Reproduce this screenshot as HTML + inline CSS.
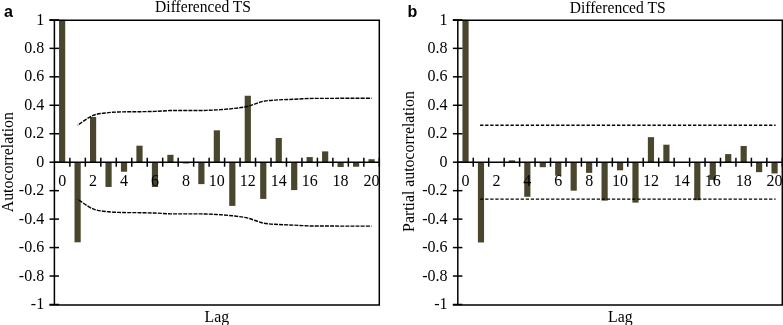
<!DOCTYPE html>
<html><head><meta charset="utf-8"><style>
html,body{margin:0;padding:0;background:#fff;}
body{width:783px;height:325px;overflow:hidden;}
svg{display:block;will-change:transform;}
text{font-family:"Liberation Serif",serif;fill:#000;}
.yt{font-size:16px;text-anchor:end;}
.xt{font-size:16px;text-anchor:middle;}
.ti{font-size:16.2px;text-anchor:middle;}
.ax{font-size:15.8px;text-anchor:middle;}
.ws{}
.lt{font-family:"Liberation Sans",sans-serif;font-weight:bold;font-size:16px;}
</style></head><body>
<svg width="783" height="325" viewBox="0 0 783 325">
<rect x="59.04" y="19.90" width="6.19" height="142.30" fill="#4a452d"/>
<rect x="74.51" y="162.20" width="6.19" height="80.11" fill="#4a452d"/>
<rect x="89.98" y="116.95" width="6.19" height="45.25" fill="#4a452d"/>
<rect x="105.46" y="162.20" width="6.19" height="24.76" fill="#4a452d"/>
<rect x="120.93" y="162.20" width="6.19" height="9.53" fill="#4a452d"/>
<rect x="136.40" y="145.69" width="6.19" height="16.51" fill="#4a452d"/>
<rect x="151.87" y="162.20" width="6.19" height="24.76" fill="#4a452d"/>
<rect x="167.34" y="154.80" width="6.19" height="7.40" fill="#4a452d"/>
<rect x="182.81" y="162.20" width="6.19" height="1.28" fill="#4a452d"/>
<rect x="198.28" y="162.20" width="6.19" height="21.91" fill="#4a452d"/>
<rect x="213.76" y="130.32" width="6.19" height="31.88" fill="#4a452d"/>
<rect x="229.23" y="162.20" width="6.19" height="43.69" fill="#4a452d"/>
<rect x="244.70" y="95.75" width="6.19" height="66.45" fill="#4a452d"/>
<rect x="260.17" y="162.20" width="6.19" height="36.71" fill="#4a452d"/>
<rect x="275.64" y="138.01" width="6.19" height="24.19" fill="#4a452d"/>
<rect x="291.11" y="162.20" width="6.19" height="27.89" fill="#4a452d"/>
<rect x="306.58" y="157.08" width="6.19" height="5.12" fill="#4a452d"/>
<rect x="322.06" y="151.39" width="6.19" height="10.81" fill="#4a452d"/>
<rect x="337.53" y="162.20" width="6.19" height="4.84" fill="#4a452d"/>
<rect x="353.00" y="162.20" width="6.19" height="4.55" fill="#4a452d"/>
<rect x="368.47" y="159.21" width="6.19" height="2.99" fill="#4a452d"/>
<path d="M77.61,125.26 C80.19,123.62 87.92,117.55 93.08,115.45 C98.24,113.35 103.39,113.25 108.55,112.64 C113.71,112.04 118.86,111.99 124.02,111.83 C129.18,111.68 134.34,111.79 139.49,111.71 C144.65,111.63 149.81,111.55 154.96,111.36 C160.12,111.17 165.28,110.71 170.44,110.57 C175.59,110.42 180.75,110.51 185.91,110.50 C191.06,110.49 196.22,110.60 201.38,110.50 C206.54,110.39 211.69,110.20 216.85,109.89 C222.01,109.57 227.16,109.21 232.32,108.62 C237.48,108.02 242.64,107.53 247.79,106.32 C252.95,105.10 258.11,102.39 263.26,101.32 C268.42,100.25 273.58,100.22 278.74,99.87 C283.89,99.53 289.05,99.50 294.21,99.26 C299.36,99.02 304.52,98.59 309.68,98.45 C314.84,98.31 319.99,98.44 325.15,98.42 C330.31,98.39 335.46,98.32 340.62,98.30 C345.78,98.27 350.94,98.28 356.09,98.27 C361.25,98.27 368.99,98.26 371.56,98.25" fill="none" stroke="#000" stroke-width="1.4" stroke-dasharray="4 1.1" stroke-dashoffset="3.3"/>
<path d="M77.61,199.14 C80.19,200.78 87.92,206.85 93.08,208.95 C98.24,211.05 103.39,211.15 108.55,211.76 C113.71,212.36 118.86,212.41 124.02,212.57 C129.18,212.72 134.34,212.61 139.49,212.69 C144.65,212.77 149.81,212.85 154.96,213.04 C160.12,213.23 165.28,213.69 170.44,213.83 C175.59,213.98 180.75,213.89 185.91,213.90 C191.06,213.91 196.22,213.80 201.38,213.90 C206.54,214.01 211.69,214.20 216.85,214.51 C222.01,214.83 227.16,215.19 232.32,215.78 C237.48,216.38 242.64,216.87 247.79,218.08 C252.95,219.30 258.11,222.01 263.26,223.08 C268.42,224.15 273.58,224.18 278.74,224.53 C283.89,224.87 289.05,224.90 294.21,225.14 C299.36,225.38 304.52,225.81 309.68,225.95 C314.84,226.09 319.99,225.96 325.15,225.98 C330.31,226.01 335.46,226.08 340.62,226.10 C345.78,226.13 350.94,226.12 356.09,226.13 C361.25,226.13 368.99,226.14 371.56,226.15" fill="none" stroke="#000" stroke-width="1.4" stroke-dasharray="4 1.1" stroke-dashoffset="3.3"/>
<path d="M49.40,20.15 H379.30 V304.90 H49.40" fill="none" stroke="#000" stroke-width="1.50"/>
<line x1="54.40" y1="20.15" x2="54.40" y2="304.90" stroke="#000" stroke-width="1.50"/>
<line x1="49.50" y1="19.90" x2="59.00" y2="19.90" stroke="#000" stroke-width="1.50"/>
<text x="44.20" y="24.50" class="yt">1</text>
<line x1="49.50" y1="48.36" x2="59.00" y2="48.36" stroke="#000" stroke-width="1.50"/>
<text x="44.20" y="52.96" class="yt">0.8</text>
<line x1="49.50" y1="76.82" x2="59.00" y2="76.82" stroke="#000" stroke-width="1.50"/>
<text x="44.20" y="81.42" class="yt">0.6</text>
<line x1="49.50" y1="105.28" x2="59.00" y2="105.28" stroke="#000" stroke-width="1.50"/>
<text x="44.20" y="109.88" class="yt">0.4</text>
<line x1="49.50" y1="133.74" x2="59.00" y2="133.74" stroke="#000" stroke-width="1.50"/>
<text x="44.20" y="138.34" class="yt">0.2</text>
<line x1="49.50" y1="162.20" x2="59.00" y2="162.20" stroke="#000" stroke-width="1.50"/>
<text x="44.20" y="166.80" class="yt">0</text>
<line x1="49.50" y1="190.66" x2="59.00" y2="190.66" stroke="#000" stroke-width="1.50"/>
<text x="44.20" y="195.26" class="yt">-0.2</text>
<line x1="49.50" y1="219.12" x2="59.00" y2="219.12" stroke="#000" stroke-width="1.50"/>
<text x="44.20" y="223.72" class="yt">-0.4</text>
<line x1="49.50" y1="247.58" x2="59.00" y2="247.58" stroke="#000" stroke-width="1.50"/>
<text x="44.20" y="252.18" class="yt">-0.6</text>
<line x1="49.50" y1="276.04" x2="59.00" y2="276.04" stroke="#000" stroke-width="1.50"/>
<text x="44.20" y="280.64" class="yt">-0.8</text>
<line x1="49.50" y1="304.50" x2="59.00" y2="304.50" stroke="#000" stroke-width="1.50"/>
<text x="44.20" y="309.10" class="yt">-1</text>
<line x1="54.40" y1="162.20" x2="379.30" y2="162.20" stroke="#000" stroke-width="1.50"/>
<line x1="69.87" y1="157.70" x2="69.87" y2="166.70" stroke="#000" stroke-width="1.50"/>
<line x1="85.34" y1="157.70" x2="85.34" y2="166.70" stroke="#000" stroke-width="1.50"/>
<line x1="100.81" y1="157.70" x2="100.81" y2="166.70" stroke="#000" stroke-width="1.50"/>
<line x1="116.29" y1="157.70" x2="116.29" y2="166.70" stroke="#000" stroke-width="1.50"/>
<line x1="131.76" y1="157.70" x2="131.76" y2="166.70" stroke="#000" stroke-width="1.50"/>
<line x1="147.23" y1="157.70" x2="147.23" y2="166.70" stroke="#000" stroke-width="1.50"/>
<line x1="162.70" y1="157.70" x2="162.70" y2="166.70" stroke="#000" stroke-width="1.50"/>
<line x1="178.17" y1="157.70" x2="178.17" y2="166.70" stroke="#000" stroke-width="1.50"/>
<line x1="193.64" y1="157.70" x2="193.64" y2="166.70" stroke="#000" stroke-width="1.50"/>
<line x1="209.11" y1="157.70" x2="209.11" y2="166.70" stroke="#000" stroke-width="1.50"/>
<line x1="224.59" y1="157.70" x2="224.59" y2="166.70" stroke="#000" stroke-width="1.50"/>
<line x1="240.06" y1="157.70" x2="240.06" y2="166.70" stroke="#000" stroke-width="1.50"/>
<line x1="255.53" y1="157.70" x2="255.53" y2="166.70" stroke="#000" stroke-width="1.50"/>
<line x1="271.00" y1="157.70" x2="271.00" y2="166.70" stroke="#000" stroke-width="1.50"/>
<line x1="286.47" y1="157.70" x2="286.47" y2="166.70" stroke="#000" stroke-width="1.50"/>
<line x1="301.94" y1="157.70" x2="301.94" y2="166.70" stroke="#000" stroke-width="1.50"/>
<line x1="317.41" y1="157.70" x2="317.41" y2="166.70" stroke="#000" stroke-width="1.50"/>
<line x1="332.89" y1="157.70" x2="332.89" y2="166.70" stroke="#000" stroke-width="1.50"/>
<line x1="348.36" y1="157.70" x2="348.36" y2="166.70" stroke="#000" stroke-width="1.50"/>
<line x1="363.83" y1="157.70" x2="363.83" y2="166.70" stroke="#000" stroke-width="1.50"/>
<line x1="379.30" y1="157.70" x2="379.30" y2="166.70" stroke="#000" stroke-width="1.50"/>
<text x="62.14" y="185.70" class="xt">0</text>
<text x="93.08" y="185.70" class="xt">2</text>
<text x="124.02" y="185.70" class="xt">4</text>
<text x="154.96" y="185.70" class="xt">6</text>
<text x="185.91" y="185.70" class="xt">8</text>
<text x="216.85" y="185.70" class="xt">10</text>
<text x="247.79" y="185.70" class="xt">12</text>
<text x="278.74" y="185.70" class="xt">14</text>
<text x="309.68" y="185.70" class="xt">16</text>
<text x="340.62" y="185.70" class="xt">18</text>
<text x="371.56" y="185.70" class="xt">20</text>
<text transform="translate(203.05,11.80) scale(0.9630,1)" class="ti">Differenced TS</text>
<text x="216.80" y="321.90" class="ax">Lag</text>
<text transform="translate(12.70,162.20) rotate(-90)" class="ax">Autocorrelation</text>
<text x="4.00" y="16.70" class="lt">a</text>
<rect x="462.44" y="19.90" width="6.18" height="142.30" fill="#4a452d"/>
<rect x="477.89" y="162.20" width="6.18" height="80.26" fill="#4a452d"/>
<rect x="508.79" y="160.35" width="6.18" height="1.85" fill="#4a452d"/>
<rect x="524.25" y="162.20" width="6.18" height="34.58" fill="#4a452d"/>
<rect x="539.70" y="162.20" width="6.18" height="4.98" fill="#4a452d"/>
<rect x="555.15" y="162.20" width="6.18" height="13.52" fill="#4a452d"/>
<rect x="570.60" y="162.20" width="6.18" height="28.46" fill="#4a452d"/>
<rect x="586.05" y="162.20" width="6.18" height="10.67" fill="#4a452d"/>
<rect x="601.51" y="162.20" width="6.18" height="38.42" fill="#4a452d"/>
<rect x="616.96" y="162.20" width="6.18" height="8.11" fill="#4a452d"/>
<rect x="632.41" y="162.20" width="6.18" height="40.41" fill="#4a452d"/>
<rect x="647.86" y="137.16" width="6.18" height="25.04" fill="#4a452d"/>
<rect x="663.32" y="144.70" width="6.18" height="17.50" fill="#4a452d"/>
<rect x="694.22" y="162.20" width="6.18" height="37.99" fill="#4a452d"/>
<rect x="709.67" y="162.20" width="6.18" height="17.65" fill="#4a452d"/>
<rect x="725.13" y="154.09" width="6.18" height="8.11" fill="#4a452d"/>
<rect x="740.58" y="145.98" width="6.18" height="16.22" fill="#4a452d"/>
<rect x="756.03" y="162.20" width="6.18" height="9.96" fill="#4a452d"/>
<rect x="771.48" y="162.20" width="6.18" height="11.24" fill="#4a452d"/>
<path d="M480.10,125.26 L775.60,125.26" fill="none" stroke="#000" stroke-width="1.4" stroke-dasharray="3.3 1.77" stroke-dashoffset="0"/>
<path d="M480.10,199.14 L775.60,199.14" fill="none" stroke="#000" stroke-width="1.4" stroke-dasharray="3.3 1.77" stroke-dashoffset="0"/>
<path d="M452.80,20.15 H782.30 V304.90 H452.80" fill="none" stroke="#000" stroke-width="1.50"/>
<line x1="457.80" y1="20.15" x2="457.80" y2="304.90" stroke="#000" stroke-width="1.50"/>
<line x1="452.90" y1="19.90" x2="462.40" y2="19.90" stroke="#000" stroke-width="1.50"/>
<text x="447.60" y="24.50" class="yt">1</text>
<line x1="452.90" y1="48.36" x2="462.40" y2="48.36" stroke="#000" stroke-width="1.50"/>
<text x="447.60" y="52.96" class="yt">0.8</text>
<line x1="452.90" y1="76.82" x2="462.40" y2="76.82" stroke="#000" stroke-width="1.50"/>
<text x="447.60" y="81.42" class="yt">0.6</text>
<line x1="452.90" y1="105.28" x2="462.40" y2="105.28" stroke="#000" stroke-width="1.50"/>
<text x="447.60" y="109.88" class="yt">0.4</text>
<line x1="452.90" y1="133.74" x2="462.40" y2="133.74" stroke="#000" stroke-width="1.50"/>
<text x="447.60" y="138.34" class="yt">0.2</text>
<line x1="452.90" y1="162.20" x2="462.40" y2="162.20" stroke="#000" stroke-width="1.50"/>
<text x="447.60" y="166.80" class="yt">0</text>
<line x1="452.90" y1="190.66" x2="462.40" y2="190.66" stroke="#000" stroke-width="1.50"/>
<text x="447.60" y="195.26" class="yt">-0.2</text>
<line x1="452.90" y1="219.12" x2="462.40" y2="219.12" stroke="#000" stroke-width="1.50"/>
<text x="447.60" y="223.72" class="yt">-0.4</text>
<line x1="452.90" y1="247.58" x2="462.40" y2="247.58" stroke="#000" stroke-width="1.50"/>
<text x="447.60" y="252.18" class="yt">-0.6</text>
<line x1="452.90" y1="276.04" x2="462.40" y2="276.04" stroke="#000" stroke-width="1.50"/>
<text x="447.60" y="280.64" class="yt">-0.8</text>
<line x1="452.90" y1="304.50" x2="462.40" y2="304.50" stroke="#000" stroke-width="1.50"/>
<text x="447.60" y="309.10" class="yt">-1</text>
<line x1="457.80" y1="162.20" x2="782.30" y2="162.20" stroke="#000" stroke-width="1.50"/>
<line x1="473.25" y1="157.70" x2="473.25" y2="166.70" stroke="#000" stroke-width="1.50"/>
<line x1="488.70" y1="157.70" x2="488.70" y2="166.70" stroke="#000" stroke-width="1.50"/>
<line x1="504.16" y1="157.70" x2="504.16" y2="166.70" stroke="#000" stroke-width="1.50"/>
<line x1="519.61" y1="157.70" x2="519.61" y2="166.70" stroke="#000" stroke-width="1.50"/>
<line x1="535.06" y1="157.70" x2="535.06" y2="166.70" stroke="#000" stroke-width="1.50"/>
<line x1="550.51" y1="157.70" x2="550.51" y2="166.70" stroke="#000" stroke-width="1.50"/>
<line x1="565.97" y1="157.70" x2="565.97" y2="166.70" stroke="#000" stroke-width="1.50"/>
<line x1="581.42" y1="157.70" x2="581.42" y2="166.70" stroke="#000" stroke-width="1.50"/>
<line x1="596.87" y1="157.70" x2="596.87" y2="166.70" stroke="#000" stroke-width="1.50"/>
<line x1="612.32" y1="157.70" x2="612.32" y2="166.70" stroke="#000" stroke-width="1.50"/>
<line x1="627.78" y1="157.70" x2="627.78" y2="166.70" stroke="#000" stroke-width="1.50"/>
<line x1="643.23" y1="157.70" x2="643.23" y2="166.70" stroke="#000" stroke-width="1.50"/>
<line x1="658.68" y1="157.70" x2="658.68" y2="166.70" stroke="#000" stroke-width="1.50"/>
<line x1="674.13" y1="157.70" x2="674.13" y2="166.70" stroke="#000" stroke-width="1.50"/>
<line x1="689.59" y1="157.70" x2="689.59" y2="166.70" stroke="#000" stroke-width="1.50"/>
<line x1="705.04" y1="157.70" x2="705.04" y2="166.70" stroke="#000" stroke-width="1.50"/>
<line x1="720.49" y1="157.70" x2="720.49" y2="166.70" stroke="#000" stroke-width="1.50"/>
<line x1="735.94" y1="157.70" x2="735.94" y2="166.70" stroke="#000" stroke-width="1.50"/>
<line x1="751.40" y1="157.70" x2="751.40" y2="166.70" stroke="#000" stroke-width="1.50"/>
<line x1="766.85" y1="157.70" x2="766.85" y2="166.70" stroke="#000" stroke-width="1.50"/>
<line x1="782.30" y1="157.70" x2="782.30" y2="166.70" stroke="#000" stroke-width="1.50"/>
<text x="465.53" y="185.70" class="xt">0</text>
<text x="496.43" y="185.70" class="xt">2</text>
<text x="527.34" y="185.70" class="xt">4</text>
<text x="558.24" y="185.70" class="xt">6</text>
<text x="589.15" y="185.70" class="xt">8</text>
<text x="620.05" y="185.70" class="xt">10</text>
<text x="650.95" y="185.70" class="xt">12</text>
<text x="681.86" y="185.70" class="xt">14</text>
<text x="712.76" y="185.70" class="xt">16</text>
<text x="743.67" y="185.70" class="xt">18</text>
<text x="774.57" y="185.70" class="xt">20</text>
<text transform="translate(617.65,12.80) scale(0.9630,1)" class="ti">Differenced TS</text>
<text x="620.40" y="321.90" class="ax">Lag</text>
<text transform="translate(413.80,161.50) rotate(-90)" class="ax ws">Partial autocorrelation</text>
<text x="407.60" y="16.70" class="lt">b</text>
</svg>
</body></html>
